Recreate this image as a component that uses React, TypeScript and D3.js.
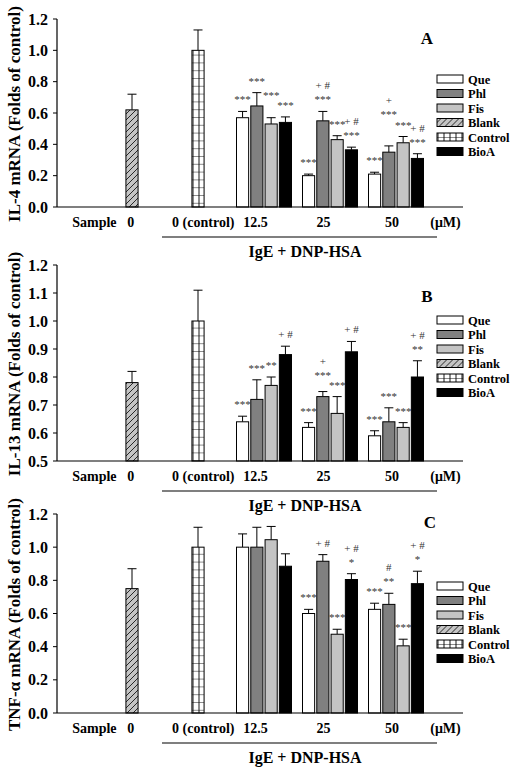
import React from "react";
import * as d3 from "d3";

// ---------- data ----------
const seriesNames = ["Que", "Phl", "Fis", "Blank", "Control", "BioA"];
const groupSeries = ["Que", "Phl", "Fis", "BioA"];
const doses = ["12.5", "25", "50"];
const xLabels = ["Sample", "0", "0 (control)", "12.5", "25", "50", "(\u03bcM)"];
const panelLetters = ["A", "B", "C"];
const yTitles = [
  "IL-4 mRNA (Folds of control)",
  "IL-13 mRNA (Folds of control)",
  "TNF-\u03b1 mRNA (Folds of control)",
];
const groupTitle = "IgE + DNP-HSA";

// Panel A (IL-4)
const blankA = { mean: 0.62, sd: 0.1 };
const controlA = { mean: 1.0, sd: 0.13 };
const queA = [0.57, 0.2, 0.21];
const queSdA = [0.04, 0.01, 0.012];
const phlA = [0.645, 0.55, 0.35];
const phlSdA = [0.085, 0.06, 0.04];
const fisA = [0.53, 0.43, 0.41];
const fisSdA = [0.04, 0.025, 0.04];
const bioAA = [0.54, 0.365, 0.31];
const bioASdA = [0.035, 0.017, 0.03];
const annA = {
  Que: ["***", "***", "***"],
  Phl: ["***", "+ #|***", "+|***"],
  Fis: ["***", "***", "***"],
  BioA: ["***", "+ #|***", "+ #|***"],
};

// Panel B (IL-13)
const blankB = { mean: 0.78, sd: 0.04 };
const controlB = { mean: 1.0, sd: 0.11 };
const queB = [0.64, 0.62, 0.59];
const queSdB = [0.02, 0.017, 0.018];
const phlB = [0.72, 0.73, 0.64];
const phlSdB = [0.07, 0.018, 0.05];
const fisB = [0.77, 0.67, 0.62];
const fisSdB = [0.03, 0.06, 0.017];
const bioAB = [0.88, 0.89, 0.8];
const bioASdB = [0.03, 0.037, 0.058];
const annB = {
  Que: ["***", "***", "***"],
  Phl: ["***", "+|***", "***"],
  Fis: ["**", "***", "***"],
  BioA: ["+ #", "+ #", "+ #|**"],
};

// Panel C (TNF-alpha)
const blankC = { mean: 0.75, sd: 0.12 };
const controlC = { mean: 1.0, sd: 0.12 };
const queC = [1.0, 0.6, 0.625];
const queSdC = [0.08, 0.025, 0.037];
const phlC = [1.0, 0.915, 0.655];
const phlSdC = [0.12, 0.04, 0.067];
const fisC = [1.045, 0.475, 0.405];
const fisSdC = [0.08, 0.03, 0.04];
const bioAC = [0.885, 0.805, 0.78];
const bioASdC = [0.075, 0.035, 0.075];
const annC = {
  Que: ["", "***", "***"],
  Phl: ["", "+ #", "#|**"],
  Fis: ["", "***", "***"],
  BioA: ["", "+ #|*", "+ #|*"],
};

const yDomains = [
  [0, 1.2],
  [0.5, 1.2],
  [0, 1.2],
];
const yTickSteps = [0.2, 0.1, 0.2];

const panels = [
  {
    blank: blankA, control: controlA,
    means: { Que: queA, Phl: phlA, Fis: fisA, BioA: bioAA },
    sds: { Que: queSdA, Phl: phlSdA, Fis: fisSdA, BioA: bioASdA },
    ann: annA,
  },
  {
    blank: blankB, control: controlB,
    means: { Que: queB, Phl: phlB, Fis: fisB, BioA: bioAB },
    sds: { Que: queSdB, Phl: phlSdB, Fis: fisSdB, BioA: bioASdB },
    ann: annB,
  },
  {
    blank: blankC, control: controlC,
    means: { Que: queC, Phl: phlC, Fis: fisC, BioA: bioAC },
    sds: { Que: queSdC, Phl: phlSdC, Fis: fisSdC, BioA: bioASdC },
    ann: annC,
  },
];

// ---------- layout ----------
const W = 525;
const H = 774;
const axisLeft = 57;
const axisRight = 463;
const plotTops = [19, 265, 514];
const plotBottoms = [207, 461, 713];
const legendTops = [79, 320, 586];
const letterPos = [
  [427, 44],
  [427, 302],
  [430, 528],
];
const labelSlots = [0.43, 0.98, 2.08, 2.87, 3.9, 4.94, 5.75];
const FONT = "'Liberation Serif', 'Times New Roman', serif";
const ANN_SIZE = 11;
const ANN_LINE = 14;
const ANN_GAP = 8;

const fills: Record<string, string> = {
  Que: "#ffffff",
  Phl: "#808080",
  Fis: "#c4c4c4",
  Blank: "url(#hatch)",
  Control: "url(#grid)",
  BioA: "#000000",
};

const charW: Record<string, number> = { "*": 0.5, "+": 0.564, "#": 0.5, " ": 0.25 };
function textWidth(t: string) {
  let w = 0;
  for (const c of t) w += (charW[c] ?? 0.5) * ANN_SIZE;
  return w;
}

const xSlot = d3.scaleLinear().domain([0, 6]).range([66, 462]);
const inner = d3.scaleBand<string>().domain(groupSeries).range([-27.5, 27.5]).paddingInner(0.15);
const barW = inner.bandwidth();

type Line = { t: string; x: number; y: number };

function Panel({ idx }: { idx: number }) {
  const p = panels[idx];
  const top = plotTops[idx];
  const bot = plotBottoms[idx];
  const y = d3.scaleLinear().domain(yDomains[idx]).range([bot, top]);
  const [d0, d1] = yDomains[idx];
  const step = yTickSteps[idx];
  const ticks = d3.range(Math.round((d1 - d0) / step) + 1).map((i) => d0 + i * step);

  type Bar = { key: string; series: string; cx: number; mean: number; sd: number; ann: string };
  const bars: Bar[] = [
    { key: "blank", series: "Blank", cx: xSlot(1), mean: p.blank.mean, sd: p.blank.sd, ann: "" },
    { key: "control", series: "Control", cx: xSlot(2), mean: p.control.mean, sd: p.control.sd, ann: "" },
  ];
  const annLines: Line[] = [];
  doses.forEach((dose, di) => {
    const groupBars: Bar[] = groupSeries.map((s) => ({
      key: s + dose,
      series: s,
      cx: xSlot(3 + di) + (inner(s) as number) + barW / 2,
      mean: (p.means as any)[s][di],
      sd: (p.sds as any)[s][di],
      ann: (p.ann as any)[s][di],
    }));
    bars.push(...groupBars);
    // place annotations right-to-left, lifting a block when it collides
    const placed: { x0: number; x1: number; y0: number; y1: number }[] = [];
    [...groupBars].reverse().forEach((b) => {
      const lines = b.ann.split("|").filter((t) => t).reverse();
      if (!lines.length) return;
      let base = y(b.mean + b.sd) - ANN_GAP;
      const boxesAt = (bs: number) =>
        lines.map((t, li) => {
          const w = textWidth(t);
          const yy = bs - li * ANN_LINE;
          return { x0: b.cx - w / 2, x1: b.cx + w / 2, y0: yy - 9, y1: yy };
        });
      const collides = (bs: number) =>
        boxesAt(bs).some((a) =>
          placed.some((q) => a.x0 < q.x1 - 1.5 && a.x1 > q.x0 + 1.5 && a.y0 < q.y1 + 1 && a.y1 > q.y0 - 1)
        );
      let guard = 0;
      while (collides(base) && guard < 60) {
        base -= 1;
        guard++;
      }
      placed.push(...boxesAt(base));
      lines.forEach((t, li) => annLines.push({ t, x: b.cx, y: base - li * ANN_LINE }));
    });
  });

  const lTop = legendTops[idx];

  return (
    <g>
      {bars.map((b) => (
        <g key={b.key}>
          <line x1={b.cx} x2={b.cx} y1={y(b.mean)} y2={y(b.mean + b.sd)} stroke="#000" strokeWidth={1} />
          <line x1={b.cx - 4.5} x2={b.cx + 4.5} y1={y(b.mean + b.sd)} y2={y(b.mean + b.sd)} stroke="#000" strokeWidth={1} />
          <rect
            x={b.cx - barW / 2}
            y={y(b.mean)}
            width={barW}
            height={bot - y(b.mean)}
            fill={fills[b.series]}
            stroke="#000"
            strokeWidth={1}
          />
        </g>
      ))}
      {annLines.map((l, i) => (
        <text
          key={i}
          x={l.x}
          y={l.y}
          textAnchor="middle"
          fontFamily={FONT}
          fontSize={ANN_SIZE}
          fill="#333"
        >
          {l.t}
        </text>
      ))}
      <line x1={axisLeft} x2={axisRight} y1={bot} y2={bot} stroke="#000" strokeWidth={1.2} />
      <line x1={axisLeft} x2={axisLeft} y1={bot} y2={top} stroke="#000" strokeWidth={1.2} />
      {ticks.map((t) => (
        <g key={t}>
          <line x1={axisLeft - 4} x2={axisLeft} y1={y(t)} y2={y(t)} stroke="#000" strokeWidth={1} />
          <text
            x={axisLeft - 9}
            y={y(t) + 5.5}
            textAnchor="end"
            fontFamily={FONT}
            fontWeight="bold"
            fontSize={16}
          >
            {t.toFixed(1)}
          </text>
        </g>
      ))}
      <text
        transform={`translate(${20},${(top + bot) / 2 + 1}) rotate(-90)`}
        textAnchor="middle"
        fontFamily={FONT}
        fontWeight="bold"
        fontSize={17}
      >
        {yTitles[idx]}
      </text>
      {xLabels.map((l, i) => (
        <text
          key={l}
          x={xSlot(labelSlots[i])}
          y={bot + 20}
          textAnchor="middle"
          fontFamily={FONT}
          fontWeight="bold"
          fontSize={14}
        >
          {l}
        </text>
      ))}
      <line x1={162} x2={437} y1={bot + 30} y2={bot + 30} stroke="#000" strokeWidth={1.2} />
      <text
        x={305}
        y={bot + 50}
        textAnchor="middle"
        fontFamily={FONT}
        fontWeight="bold"
        fontSize={16}
      >
        {groupTitle}
      </text>
      <text
        x={letterPos[idx][0]}
        y={letterPos[idx][1]}
        textAnchor="middle"
        fontFamily={FONT}
        fontWeight="bold"
        fontSize={17}
      >
        {panelLetters[idx]}
      </text>
      {seriesNames.map((s, i) => (
        <g key={s} transform={`translate(437,${lTop + i * 14.5})`}>
          <rect x={0} y={-4} width={26} height={8} fill={fills[s]} stroke="#000" strokeWidth={1} />
          <text x={31} y={4.5} fontFamily={FONT} fontWeight="bold" fontSize={12.5}>
            {s}
          </text>
        </g>
      ))}
    </g>
  );
}

export default function App() {
  return (
    <svg width={W} height={H} style={{ display: "block", position: "absolute", left: 0, top: 0, background: "#fff" }}>
      <defs>
        <pattern id="hatch" patternUnits="userSpaceOnUse" width={6} height={6}>
          <rect width={6} height={6} fill="#c4c4c4" />
          <path d="M-1,1 L1,-1 M0,6 L6,0 M5,7 L7,5" stroke="#000" strokeWidth={0.8} />
        </pattern>
        <pattern id="grid" patternUnits="userSpaceOnUse" x={0.5} y={0} width={6} height={7.8}>
          <rect width={6} height={7.8} fill="#fff" />
          <path d="M0,0 L6,0 M0.5,0 L0.5,7.8" stroke="#000" strokeWidth={0.9} />
        </pattern>
      </defs>
      <rect width={W} height={H} fill="#fff" />
      {[0, 1, 2].map((i) => (
        <Panel key={i} idx={i} />
      ))}
    </svg>
  );
}
